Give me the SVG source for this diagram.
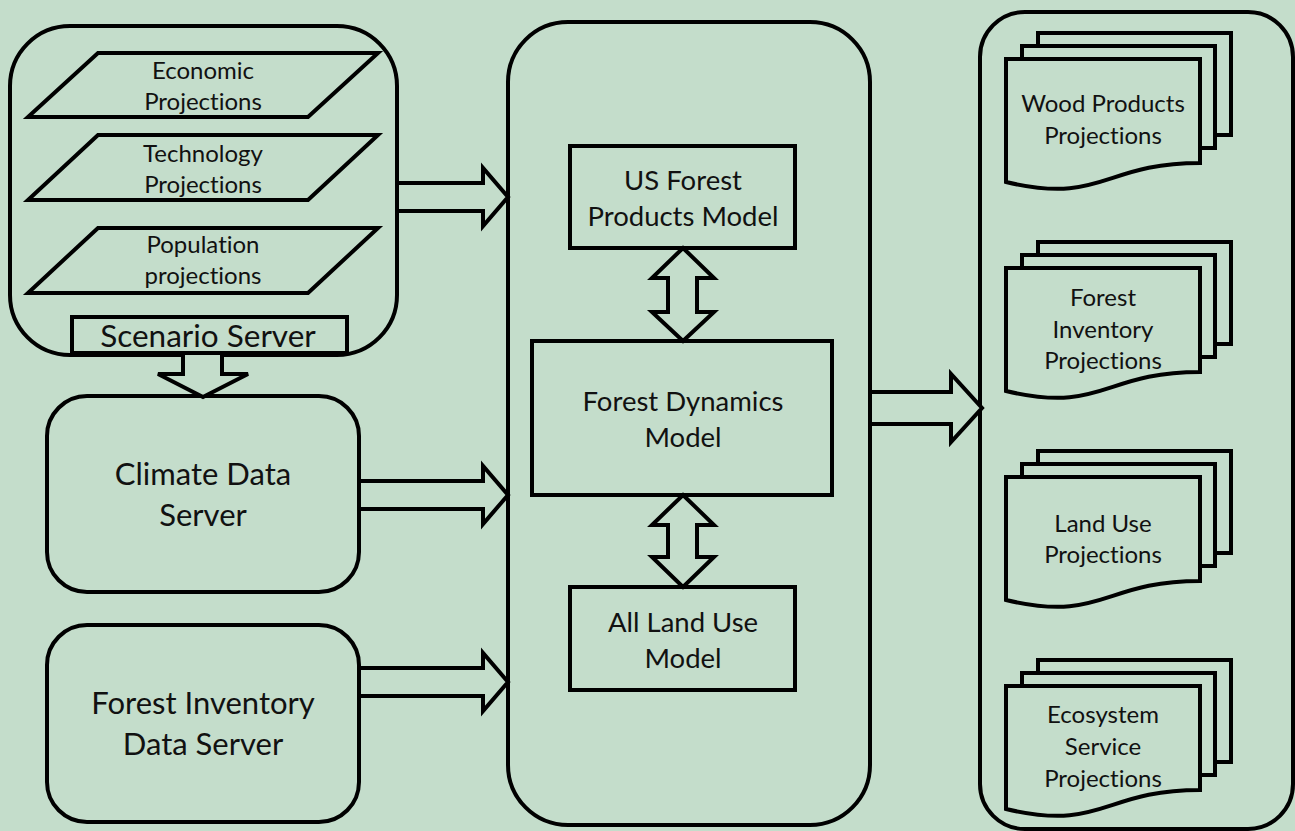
<svg xmlns="http://www.w3.org/2000/svg" width="1295" height="831" viewBox="0 0 1295 831">
  <style>
    .ln { fill: #c4ddcb; stroke: #000; stroke-width: 4; stroke-linejoin: miter; }
    .t { font-family: Lato, "Liberation Sans", sans-serif; fill: #111; text-anchor: middle; font-variant-ligatures: none; font-feature-settings: "liga" 0, "clig" 0; }
    .s { font-size: 24px; }
    .m { font-size: 27.5px; }
    .b { font-size: 31px; }
    .ss { font-size: 31.5px; }
  </style>
  <defs>
    <!-- three stacked pages; the front page has a wavy lower edge -->
    <g id="docstack">
      <rect class="ln" x="32" y="-26" width="193" height="102"/>
      <rect class="ln" x="16" y="-13" width="193" height="102"/>
      <path class="ln" d="M0,0 H194 V104 C97,104 97,146 0,123 Z"/>
    </g>
  </defs>
  <rect width="1295" height="831" fill="#c4ddcb"/>

  <!-- scenario inputs -->
  <g id="scenario-group">
    <rect class="ln" x="10" y="26" width="387" height="329" rx="60"/>
    <polygon class="ln" points="98,53 378,53 308,117 28,117"/>
    <text class="t s" x="203" y="79">Economic</text>
    <text class="t s" x="203" y="110">Projections</text>
    <polygon class="ln" points="98,135 378,135 308,200 28,200"/>
    <text class="t s" x="203" y="162">Technology</text>
    <text class="t s" x="203" y="193">Projections</text>
    <polygon class="ln" points="98,228 378,228 308,293 28,293"/>
    <text class="t s" x="203" y="253">Population</text>
    <text class="t s" x="203" y="284">projections</text>
  </g>
  <g id="scenario-server">
    <rect class="ln" x="72" y="317" width="275" height="36"/>
    <text class="t ss" x="208" y="347">Scenario Server</text>
  </g>

  <g id="climate-server">
    <rect class="ln" x="47" y="396" width="312" height="196" rx="40"/>
    <text class="t b" x="203" y="485">Climate Data</text>
    <text class="t b" x="203" y="526">Server</text>
  </g>

  <g id="inventory-server">
    <rect class="ln" x="47" y="625" width="312" height="197" rx="40"/>
    <text class="t b" x="203" y="714">Forest Inventory</text>
    <text class="t b" x="203" y="755">Data Server</text>
  </g>

  <!-- model suite -->
  <g id="model-suite">
    <rect class="ln" x="508" y="22" width="362" height="803" rx="60"/>
  </g>
  <g id="us-forest-products">
    <rect class="ln" x="570" y="146" width="225" height="102"/>
    <text class="t m" x="683" y="190">US Forest</text>
    <text class="t m" x="683" y="226">Products Model</text>
  </g>
  <g id="forest-dynamics">
    <rect class="ln" x="532" y="341" width="300" height="154"/>
    <text class="t m" x="683" y="411">Forest Dynamics</text>
    <text class="t m" x="683" y="447">Model</text>
  </g>
  <g id="land-use-model">
    <rect class="ln" x="570" y="587" width="225" height="103"/>
    <text class="t m" x="683" y="632">All Land Use</text>
    <text class="t m" x="683" y="668">Model</text>
  </g>

  <!-- outputs -->
  <g id="outputs">
    <rect class="ln" x="980" y="12" width="313" height="817" rx="45"/>
  </g>
  <g id="wood-products">
    <use href="#docstack" x="1006" y="59"/>
    <text class="t s" x="1103" y="112">Wood Products</text>
    <text class="t s" x="1103" y="144">Projections</text>
  </g>
  <g id="inventory-projections">
    <use href="#docstack" x="1006" y="268"/>
    <text class="t s" x="1103" y="306">Forest</text>
    <text class="t s" x="1103" y="338">Inventory</text>
    <text class="t s" x="1103" y="369">Projections</text>
  </g>
  <g id="land-use-projections">
    <use href="#docstack" x="1006" y="477"/>
    <text class="t s" x="1103" y="532">Land Use</text>
    <text class="t s" x="1103" y="563">Projections</text>
  </g>
  <g id="ecosystem-projections">
    <use href="#docstack" x="1006" y="686"/>
    <text class="t s" x="1103" y="723">Ecosystem</text>
    <text class="t s" x="1103" y="755">Service</text>
    <text class="t s" x="1103" y="787">Projections</text>
  </g>

  <!-- block-arrow connectors -->
  <g id="connectors">
    <polygon class="ln" points="397,183 483,183 483,168 508,197 483,226 483,211 397,211"/>
    <polygon class="ln" points="359,481 483,481 483,466 508,495 483,524 483,509 359,509"/>
    <polygon class="ln" points="359,668 483,668 483,653 508,682 483,711 483,696 359,696"/>
    <polygon class="ln" points="870,392 951,392 951,374 982,408 951,442 951,424 870,424"/>
    <polygon class="ln" points="183,353 222,353 222,374 248,374 203,397 158,374 183,374"/>
    <polygon class="ln" points="683,248 714,278 697,278 697,312 714,312 683,341 652,312 668,312 668,278 652,278"/>
    <polygon class="ln" points="683,495 714,525 697,525 697,557 714,557 683,587 652,557 668,557 668,525 652,525"/>
  </g>
</svg>
